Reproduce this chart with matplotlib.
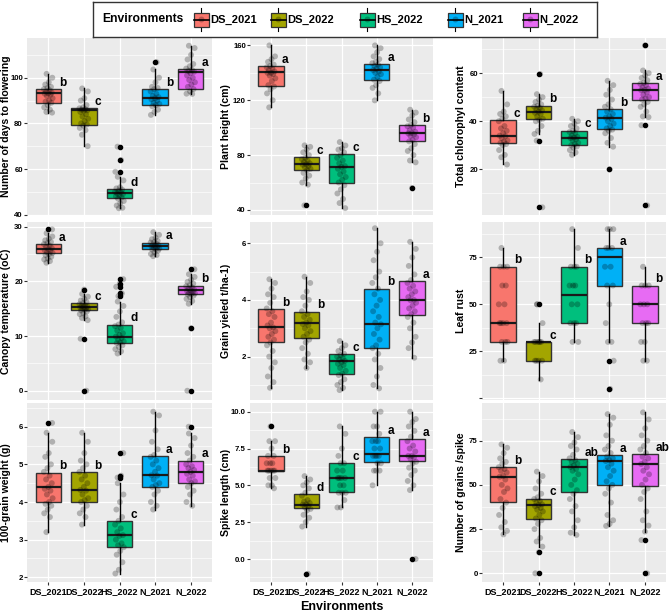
import matplotlib
matplotlib.use("Agg")
import matplotlib.pyplot as plt
from matplotlib.patches import Rectangle
from matplotlib.ticker import MultipleLocator
from matplotlib.transforms import blended_transform_factory
import numpy as np

plt.rcParams['font.family'] = ['Liberation Sans', 'DejaVu Sans']
plt.rcParams['font.weight'] = 'bold'

# ======================= DATA ==========================
ENVS = ["DS_2021", "DS_2022", "HS_2022", "N_2021", "N_2022"]
COLORS = ["#F8766D", "#A3A500", "#00BF7D", "#00B0F6", "#E76BF3"]

# box stats per environment: (q1, median, q3, whisker low, whisker high)
DAYS_STATS = [(89.1, 93.2, 94.9, 84.7, 101.7), (79.2, 85.7, 86.6, 70, 95.3),
              (47.2, 49.3, 51.1, 42.8, 56.6), (87.9, 91.1, 95.1, 83.7, 103.6),
              (94.9, 102.6, 103.9, 92.9, 114)]
DAYS_OUT = [[], [], [58.8, 63.9, 69.8], [106.8], []]
DAYS_PTS = [[101.7, 100, 98, 97, 96, 95.5, 95, 94.5, 94, 93.5, 93.2, 93, 92.5, 92, 91, 90, 89.5, 89, 88, 87, 86, 85, 84.7],
            [95.3, 94, 91, 90, 88, 87, 86.6, 86.2, 86, 85.7, 85.5, 85, 84, 83, 82, 81, 80, 79.5, 79, 78, 77, 75, 70],
            [56.6, 55, 52, 51.5, 51, 50.5, 50, 49.8, 49.3, 49, 48.5, 48, 47.5, 47, 46, 45, 44, 43, 42.8],
            [103.6, 100, 98, 96, 95.5, 95, 94, 93, 92, 91.5, 91, 90.5, 90, 89, 88.5, 88, 87.5, 86, 85, 83.7],
            [114, 113, 110, 108, 106, 105, 104, 103.5, 103, 102.6, 102, 101, 100, 99, 98, 97, 96, 95, 94, 93, 92.9]]
DAYS_LET = ["b", "c", "d", "b", "a"]

HEIGHT_STATS = [(130.1, 140.3, 144.9, 114.8, 160), (69.1, 73.4, 78.3, 58.4, 87.1),
                (59.3, 71.5, 80.7, 41.3, 89.5), (134.5, 142, 146.6, 119.9, 160),
                (90.2, 95.8, 101.6, 74.7, 113.1)]
HEIGHT_OUT = [[], [43.3], [], [], [56]]
HEIGHT_PTS = [[160, 152, 150, 148, 146, 145, 144, 143, 142, 141, 140, 140, 139, 138, 136, 134, 131, 130, 128, 125, 120, 114.8],
              [87.1, 86, 84, 82, 80, 78, 77, 76, 75, 74, 73.4, 73, 72, 71, 70, 69, 67, 65, 63, 60, 58.4],
              [89.5, 87, 85, 84, 82, 80, 78, 76, 74, 72, 71.5, 70, 68, 66, 64, 62, 60, 58, 55, 52, 48, 45, 41.3],
              [160, 158, 155, 152, 150, 148, 147, 146, 145, 144, 143, 142, 141, 140, 139, 137, 135, 134, 131, 129, 125, 119.9],
              [113.1, 111, 109, 106, 104, 102, 101, 100, 98, 97, 96, 95.8, 95, 94, 93, 91, 90, 88, 85, 83, 80, 76, 74.7]]
HEIGHT_LET = ["a", "c", "c", "a", "b"]

CHL_STATS = [(30.8, 33.75, 40.6, 22, 52.6), (40.8, 44, 46.5, 34.7, 51.25),
             (30.1, 33.2, 36.1, 26, 41), (36.8, 41.5, 45, 29.4, 56.8),
             (48.9, 52.9, 55.8, 41.7, 61.1)]
CHL_OUT = [[], [59.6, 31.9, 4.2], [], [20], [71.5, 38.3, 5]]
CHL_PTS = [[52.6, 47, 44, 43, 42, 41, 40, 38, 37, 36, 35, 34, 33.75, 33, 32, 31.5, 31, 30.5, 30, 28, 26, 25, 22],
           [51.25, 50, 49, 48, 47, 46.5, 46, 45.5, 45, 44.5, 44, 43.5, 43, 42, 41, 40.5, 40, 38, 36, 34.7],
           [41, 40, 39, 38, 37, 36, 35.5, 35, 34, 33.5, 33.2, 33, 32.5, 32, 31, 30.5, 30, 29.5, 29, 28, 27, 26],
           [56.8, 55, 53, 51, 49, 47, 46, 45, 44, 43, 42, 41.5, 41, 40, 39, 38, 37, 36.5, 36, 35, 33, 31, 29.4],
           [61.1, 60, 59, 58, 57, 56, 55.5, 55, 54, 53.5, 53, 52.9, 52, 51, 50, 49.5, 49, 48, 47, 46, 44, 42, 41.7]]
CHL_LET = ["c", "b", "c", "b", "a"]

TEMP_STATS = [(25.2, 25.9, 26.8, 23.4, 28.8), (14.7, 15.3, 16, 12.9, 17.7),
              (8.7, 9.9, 12.1, 6.8, 16.3), (25.85, 26.5, 27.1, 24.6, 29),
              (17.6, 18.35, 19.2, 15.9, 21.3)]
TEMP_OUT = [[29.5], [18.5, 9.5, 0], [20.4, 19.6, 19.0, 17.8, 17.3], [], [22.2, 11.4, 0]]
TEMP_PTS = [[28.8, 28.2, 27.8, 27.5, 27.2, 27, 26.8, 26.5, 26.3, 26.1, 25.9, 25.7, 25.5, 25.3, 25.2, 25, 24.8, 24.5, 24.2, 24, 23.7, 23.4],
            [17.7, 17.2, 16.8, 16.5, 16.2, 16, 15.8, 15.6, 15.5, 15.4, 15.3, 15.2, 15.1, 15, 14.9, 14.8, 14.7, 14.5, 14.2, 14, 13.6, 13.3, 12.9],
            [16.3, 15.5, 14.5, 13.5, 12.5, 12.1, 11.8, 11.5, 11, 10.5, 10.2, 9.9, 9.6, 9.3, 9, 8.8, 8.7, 8.3, 8, 7.6, 7.2, 6.8],
            [29, 28.5, 28, 27.7, 27.4, 27.2, 27.1, 26.9, 26.7, 26.6, 26.5, 26.4, 26.3, 26.2, 26, 25.9, 25.8, 25.6, 25.3, 25, 24.8, 24.6],
            [21.3, 20.8, 20.3, 19.9, 19.6, 19.3, 19.1, 18.9, 18.7, 18.5, 18.35, 18.2, 18, 17.9, 17.8, 17.7, 17.6, 17.4, 17.1, 16.8, 16.4, 15.9]]
TEMP_LET = ["a", "c", "d", "a", "b"]

YIELD_STATS = [(2.5, 3.03, 3.67, 0.9, 4.73), (2.64, 3.2, 3.59, 1.6, 4.82),
               (1.38, 1.85, 2.09, 0.82, 2.55), (2.29, 3.14, 4.4, 0.88, 6.53),
               (3.46, 3.99, 4.66, 1.96, 6.05)]
YIELD_OUT = [[], [], [], [], []]
YIELD_PTS = [[4.73, 4.6, 4.4, 4.2, 4.1, 3.9, 3.7, 3.6, 3.5, 3.4, 3.2, 3.1, 3.03, 3.0, 2.9, 2.8, 2.7, 2.6, 2.5, 2.4, 2.2, 2.0, 1.8, 1.6, 1.3, 1.1, 0.9],
             [4.82, 4.6, 4.3, 4.1, 4.0, 3.8, 3.6, 3.5, 3.4, 3.3, 3.2, 3.15, 3.1, 3.0, 2.9, 2.8, 2.7, 2.6, 2.5, 2.3, 2.1, 1.9, 1.8, 1.6],
             [2.55, 2.4, 2.3, 2.2, 2.1, 2.05, 2.0, 1.95, 1.9, 1.85, 1.8, 1.75, 1.7, 1.6, 1.5, 1.4, 1.35, 1.2, 1.1, 1.0, 0.9, 0.82],
             [6.53, 6.0, 5.7, 5.4, 5.0, 4.8, 4.6, 4.4, 4.2, 4.0, 3.8, 3.6, 3.4, 3.2, 3.14, 3.0, 2.8, 2.6, 2.4, 2.3, 2.1, 1.9, 1.6, 1.3, 1.0, 0.88],
             [6.05, 5.8, 5.5, 5.2, 4.9, 4.7, 4.6, 4.5, 4.4, 4.3, 4.2, 4.1, 4.0, 3.99, 3.9, 3.8, 3.7, 3.6, 3.5, 3.4, 3.2, 3.0, 2.7, 2.5, 2.3, 1.96]]
YIELD_LET = ["b", "b", "c", "b", "a"]

RUST_STATS = [(30, 40, 70, 20, 80), (20, 30, 30, 10, 40), (40, 55, 70, 30, 90),
              (60, 75, 80, 30, 90), (40, 50, 60, 20, 70)]
RUST_OUT = [[], [50], [], [20, 5], []]
RUST_PTS = [[80, 70, 70, 70, 60, 60, 50, 50, 40, 40, 40, 40, 30, 30, 30, 20, 20],
            [50, 40, 30, 30, 30, 30, 30, 30, 20, 20, 20, 20, 10],
            [90, 80, 70, 70, 70, 60, 60, 60, 50, 50, 40, 40, 40, 30, 30],
            [90, 90, 90, 80, 80, 80, 70, 70, 60, 60, 50, 40, 30, 30],
            [70, 60, 60, 60, 50, 50, 50, 40, 40, 40, 30, 30, 20, 20]]
RUST_LET = ["b", "c", "b", "a", "b"]

WEIGHT_STATS = [(4.0, 4.4, 4.78, 3.19, 5.84), (4.0, 4.32, 4.8, 3.4, 5.84),
                (2.8, 3.12, 3.5, 2.1, 4.5), (4.4, 4.71, 5.21, 3.8, 6.4),
                (4.5, 4.8, 5.1, 3.9, 5.82)]
WEIGHT_OUT = [[6.1], [], [4.7, 4.65, 5.3], [], [6.0]]
WEIGHT_PTS = [[5.84, 5.6, 5.3, 5.2, 5.0, 4.9, 4.8, 4.7, 4.6, 4.5, 4.4, 4.35, 4.3, 4.2, 4.1, 4.0, 3.95, 3.9, 3.8, 3.7, 3.6, 3.2],
              [5.84, 5.6, 5.3, 5.1, 5.0, 4.9, 4.8, 4.7, 4.6, 4.5, 4.4, 4.32, 4.3, 4.2, 4.1, 4.05, 4.0, 3.9, 3.8, 3.7, 3.6, 3.4],
              [4.5, 4.2, 4.0, 3.8, 3.6, 3.5, 3.4, 3.3, 3.2, 3.12, 3.1, 3.0, 2.9, 2.85, 2.8, 2.7, 2.6, 2.4, 2.2, 2.1],
              [6.4, 6.3, 5.9, 5.6, 5.4, 5.25, 5.2, 5.1, 5.0, 4.9, 4.8, 4.71, 4.7, 4.6, 4.5, 4.45, 4.4, 4.3, 4.2, 4.0, 3.9, 3.8],
              [5.82, 5.7, 5.5, 5.3, 5.2, 5.1, 5.0, 4.95, 4.9, 4.85, 4.8, 4.75, 4.7, 4.6, 4.55, 4.5, 4.4, 4.3, 4.2, 4.0, 3.9]]
WEIGHT_LET = ["b", "b", "c", "a", "a"]

SPIKE_STATS = [(5.97, 6.0, 7.0, 4.8, 8.0), (3.44, 3.69, 4.41, 2.2, 5.63),
               (4.52, 5.5, 6.5, 3.5, 9.0), (6.56, 7.1, 8.26, 5.0, 10),
               (6.67, 7.0, 8.14, 4.68, 10)]
SPIKE_OUT = [[9], [-1], [], [], [0]]
SPIKE_PTS = [[8, 8, 7.5, 7, 7, 6.5, 6.5, 6.5, 6, 6, 6, 6, 6, 5.5, 5.5, 5, 5, 4.8],
             [5.63, 5.4, 5.2, 5.0, 4.8, 4.5, 4.3, 4.0, 3.9, 3.8, 3.7, 3.69, 3.6, 3.5, 3.4, 3.3, 3.0, 2.8, 2.5, 2.2],
             [9, 8.5, 7.5, 7, 6.5, 6.5, 6, 6, 5.5, 5.5, 5.5, 5.5, 5, 5, 4.5, 4.5, 4.5, 4, 3.5, 3.5],
             [10, 10, 9, 9, 8.5, 8, 8, 8, 7.5, 7.5, 7, 7, 7, 7, 6.5, 6.5, 6, 6, 6, 5],
             [10, 9.5, 9.3, 9, 8.7, 8.3, 8, 7.7, 7.5, 7.3, 7, 7, 6.9, 6.8, 6.6, 6.5, 6.2, 6, 5.7, 5.3, 5, 4.68]]
SPIKE_LET = ["b", "d", "c", "a", "a"]

GRAINS_STATS = [(40.5, 54.6, 59.9, 22, 72.9), (30.7, 38.6, 42.2, 15.1, 57.5),
                (46.2, 60.1, 64.4, 21.7, 79.9), (49.9, 63.5, 66.7, 26.8, 90),
                (49.4, 61.8, 67.3, 23.6, 91)]
GRAINS_OUT = [[], [11.9, 0], [], [], [18.8, 0]]
GRAINS_PTS = [[72.9, 71, 68, 65, 63, 62, 60, 59, 58, 57, 55, 54.6, 53, 50, 48, 46, 42, 40, 37, 33, 29, 26, 24, 22],
              [57.5, 55, 52, 48, 45, 43, 42, 41, 40, 39, 38.6, 38, 37, 36, 35, 33, 31, 30, 28, 25, 20, 18, 15.1],
              [79.9, 77, 74, 72, 70, 67, 65, 64, 63, 62, 61, 60.1, 59, 58, 56, 53, 50, 47, 45, 42, 38, 35, 30, 26, 23, 21.7],
              [90, 88, 84, 78, 75, 72, 70, 68, 66, 65, 64, 63.5, 62, 60, 58, 55, 52, 50, 48, 45, 40, 33, 30, 28, 26.8],
              [91, 87, 82, 78, 75, 72, 70, 68, 66, 65, 63, 61.8, 60, 58, 56, 53, 50, 48, 46, 42, 35, 30, 27, 23.6]]
GRAINS_LET = ["b", "c", "ab", "a", "ab"]
# =======================================================

# (ylabel, stats, outliers, points, letters, ylim, ticks, tick labels)
PANELS = [
    ("Number of days to flowering", DAYS_STATS, DAYS_OUT, DAYS_PTS, DAYS_LET,
     (39.85, 117.4), [40, 60, 80, 100], ["40", "60", "80", "100"]),
    ("Plant height (cm)", HEIGHT_STATS, HEIGHT_OUT, HEIGHT_PTS, HEIGHT_LET,
     (36.3, 165.4), [40, 80, 120, 160], ["40", "80", "120", "160"]),
    ("Total chlorophyl content", CHL_STATS, CHL_OUT, CHL_PTS, CHL_LET,
     (1, 74.6), [20, 40, 60], ["20", "40", "60"]),
    ("Canopy temperature (oC)", TEMP_STATS, TEMP_OUT, TEMP_PTS, TEMP_LET,
     (-1.7, 30.85), [0, 10, 20, 30], ["0", "10", "20", "30"]),
    ("Grain yieled t/ha-1)", YIELD_STATS, YIELD_OUT, YIELD_PTS, YIELD_LET,
     (0.47, 6.75), [2, 4, 6], ["2", "4", "6"]),
    ("Leaf rust", RUST_STATS, RUST_OUT, RUST_PTS, RUST_LET,
     (-0.9, 93.8), [0, 25, 50, 75], ["", "25", "50", "75"]),
    ("100-grain weight (g)", WEIGHT_STATS, WEIGHT_OUT, WEIGHT_PTS, WEIGHT_LET,
     (1.875, 6.63), [2, 3, 4, 5, 6], ["2", "3", "4", "5", "6"]),
    ("Spike length (cm)", SPIKE_STATS, SPIKE_OUT, SPIKE_PTS, SPIKE_LET,
     (-1.56, 10.59), [0, 2.5, 5, 7.5, 10], ["0.0", "2.5", "5.0", "7.5", "10.0"]),
    ("Number of grains /spike", GRAINS_STATS, GRAINS_OUT, GRAINS_PTS, GRAINS_LET,
     (-4.9, 96.3), [0, 25, 50, 75], ["0", "25", "50", "75"]),
]

W, H = 669, 615
COLS_PX = [(27, 212), (250, 433), (482, 666)]
ROWS_PX = [(38, 215), (222, 400), (403, 582)]
YLABEL_X = [6, 226, 460.5]


def px_axes(fig, x0, x1, y0, y1):
    return fig.add_axes([x0 / W, 1 - y1 / H, (x1 - x0) / W, (y1 - y0) / H])


def jitter(n):
    # spread points sideways with a fixed low-discrepancy pattern
    return 0.13 * (((np.arange(n) * 0.618034 + 0.31) % 1) * 2 - 1)


fig = plt.figure(figsize=(W / 100, H / 100), dpi=100)
pos = np.arange(1, 6)

for k, (ylab, stats, outs, pts, lets, ylim, ticks, tlabels) in enumerate(PANELS):
    r, c = divmod(k, 3)
    ax = px_axes(fig, *COLS_PX[c], *ROWS_PX[r])
    ax.set_facecolor("#EBEBEB")
    for s in ax.spines.values():
        s.set_visible(False)

    bx = [dict(q1=q1, med=md, q3=q3, whislo=lo, whishi=hi, fliers=o)
          for (q1, md, q3, lo, hi), o in zip(stats, outs)]
    res = ax.bxp(bx, positions=pos, widths=0.72, patch_artist=True, showcaps=False,
                 boxprops=dict(edgecolor="#333333", linewidth=1.0),
                 medianprops=dict(color="#1a1a1a", linewidth=1.6),
                 whiskerprops=dict(color="black", linewidth=1.0),
                 flierprops=dict(marker="o", markerfacecolor="black", markeredgecolor="black",
                                 markersize=3.0),
                 zorder=2)
    for patch, col in zip(res["boxes"], COLORS):
        patch.set_facecolor(col)

    for i, (p, o) in enumerate(zip(pts, outs)):
        vals = np.array(p + o, dtype=float)
        ax.scatter(pos[i] + jitter(len(vals)), vals, s=18, color="black", alpha=0.25,
                   edgecolors="none", zorder=3)
        ax.annotate(lets[i], (pos[i] + 0.3, stats[i][2]), xytext=(0, 4.5),
                    textcoords="offset points", ha="left", va="center",
                    fontsize=8.5, fontweight="bold", zorder=4)

    ax.set_xlim(0.4, 5.6)
    ax.set_ylim(*ylim)
    ax.set_yticks(ticks)
    ax.set_yticklabels(tlabels)
    step = ticks[1] - ticks[0]
    ax.yaxis.set_minor_locator(MultipleLocator(step / 2))
    ax.set_xticks(pos)
    ax.grid(True, which="major", color="white", linewidth=0.9)
    ax.grid(True, which="minor", axis="y", color="white", linewidth=0.45)
    ax.set_axisbelow(True)
    ax.tick_params(axis="y", which="major", length=2, width=0.8, color="#333333",
                   labelsize=5.6, pad=1, labelcolor="black")
    ax.tick_params(axis="y", which="minor", length=0)
    if r == 2:
        ax.set_xticklabels(ENVS)
        ax.tick_params(axis="x", length=2, width=0.8, color="#333333",
                       labelsize=6.5, pad=1.5, labelcolor="black")
    else:
        ax.tick_params(axis="x", length=0, labelbottom=False)
    yl = ax.set_ylabel(ylab, fontsize=7.6, fontweight="bold")
    yl.set_verticalalignment("center")
    ax.yaxis.set_label_coords(YLABEL_X[c] / W, 0.5,
                              transform=blended_transform_factory(fig.transFigure, ax.transAxes))

fig.text(341.5 / W, 1 - 607 / H, "Environments", ha="center", va="center",
         fontsize=9, fontweight="bold")

# legend drawn by hand to get the title on the left
lg = px_axes(fig, 93, 597, 2, 37)
lg.set_xlim(0, 504)
lg.set_ylim(0, 35)
lg.set_xticks([])
lg.set_yticks([])
for s in lg.spines.values():
    s.set_color("#333333")
    s.set_linewidth(1.0)
lg.text(9, 17.5, "Environments", fontsize=8.7, fontweight="bold", va="center")
key_x = [101, 178, 267, 355, 430]
for kx, col, name in zip(key_x, COLORS, ENVS):
    lg.plot([kx + 7.5, kx + 7.5], [6, 29], color="black", lw=0.8, zorder=1)
    lg.add_patch(Rectangle((kx, 10.5), 15, 14, facecolor=col, edgecolor="#333333",
                           lw=0.9, zorder=2))
    lg.plot([kx, kx + 15], [17.5, 17.5], color="black", lw=1.2, zorder=3)
    lg.scatter([kx + 7.5], [17.5], s=18, color="black", alpha=0.25, edgecolors="none", zorder=4)
    lg.text(kx + 16.5, 17.5, name, fontsize=8, fontweight="bold", va="center")

fig.savefig("out.png", dpi=100)
